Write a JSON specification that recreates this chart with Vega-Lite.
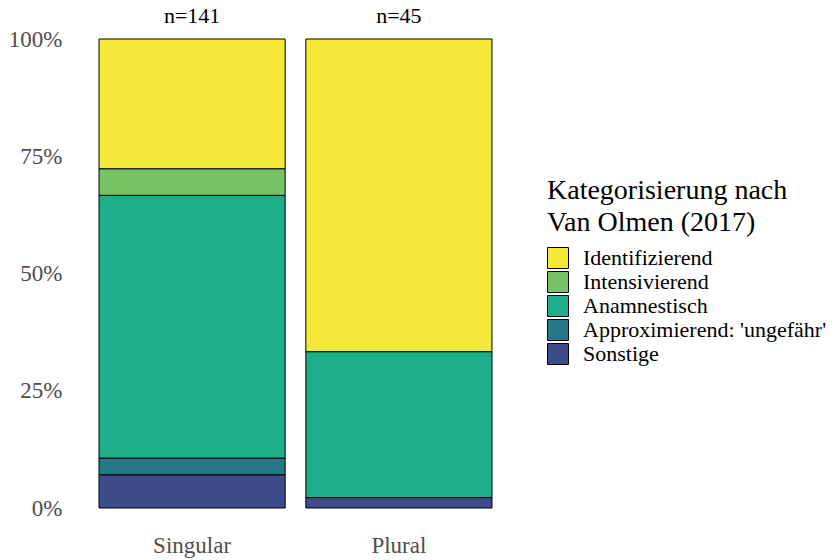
{
  "$schema": "https://vega.github.io/schema/vega-lite/v6.json",
  "width": 455,
  "height": 469,
  "autosize": {"type": "none"},
  "padding": {"left": 68, "top": 39, "right": 317, "bottom": 52},
  "background": "white",
  "config": {
    "view": {"stroke": null},
    "font": "Liberation Serif",
    "axis": {"grid": false, "domain": false, "ticks": false, "labelFont": "Liberation Serif", "labelFontSize": 23, "labelColor": "#4D4D4D", "title": null},
    "legend": {"labelFont": "Liberation Serif", "titleFont": "Liberation Serif"}
  },
  "datasets": {
    "bars": [
      {"numerus": "Singular", "kategorie": "Sonstige", "anzahl": 10, "rang": 1},
      {"numerus": "Singular", "kategorie": "Approximierend: 'ungefähr'", "anzahl": 5, "rang": 2},
      {"numerus": "Singular", "kategorie": "Anamnestisch", "anzahl": 79, "rang": 3},
      {"numerus": "Singular", "kategorie": "Intensivierend", "anzahl": 8, "rang": 4},
      {"numerus": "Singular", "kategorie": "Identifizierend", "anzahl": 39, "rang": 5},
      {"numerus": "Plural", "kategorie": "Sonstige", "anzahl": 1, "rang": 1},
      {"numerus": "Plural", "kategorie": "Anamnestisch", "anzahl": 14, "rang": 3},
      {"numerus": "Plural", "kategorie": "Identifizierend", "anzahl": 30, "rang": 5}
    ],
    "labels": [
      {"numerus": "Singular", "label": "n=141"},
      {"numerus": "Plural", "label": "n=45"}
    ]
  },
  "encoding": {
    "x": {
      "field": "numerus", "type": "nominal", "sort": ["Singular", "Plural"],
      "scale": {"paddingInner": 0.1, "paddingOuter": 0.15},
      "axis": {"labelAngle": 0, "labelPadding": 26}
    }
  },
  "layer": [
    {
      "data": {"name": "bars"},
      "mark": {"type": "bar", "stroke": "black", "strokeWidth": 1},
      "encoding": {
        "y": {
          "field": "anzahl", "type": "quantitative", "stack": "normalize",
          "scale": {"domain": [0, 1], "nice": false, "zero": true},
          "axis": {"values": [0, 0.25, 0.5, 0.75, 1], "format": ".0%", "labelPadding": 6}
        },
        "color": {
          "field": "kategorie", "type": "nominal",
          "scale": {
            "domain": ["Identifizierend", "Intensivierend", "Anamnestisch", "Approximierend: 'ungefähr'", "Sonstige"],
            "range": ["#F5E837", "#76C365", "#1EAE8A", "#257987", "#3E4C8A"]
          },
          "legend": {
            "title": ["Kategorisierung nach", "Van Olmen (2017)"],
            "orient": "none",
            "legendX": 479,
            "legendY": 138,
            "titleFont": "Liberation Serif",
            "titleFontSize": 28,
            "titleFontWeight": "normal",
            "titleColor": "black",
            "titleLineHeight": 32,
            "titlePadding": 10,
            "titleLimit": 0,
            "labelFont": "Liberation Serif",
            "labelFontSize": 22,
            "labelColor": "black",
            "labelOffset": 14,
            "labelLimit": 0,
            "symbolType": "square",
            "symbolSize": 441,
            "symbolStrokeColor": "black",
            "symbolStrokeWidth": 1,
            "symbolOpacity": 1,
            "rowPadding": -4
          }
        },
        "order": {"field": "rang", "type": "quantitative", "sort": "ascending"}
      }
    },
    {
      "data": {"name": "labels"},
      "mark": {"type": "text", "fontSize": 22, "font": "Liberation Serif", "color": "black", "baseline": "alphabetic", "dy": -16},
      "encoding": {
        "y": {"datum": 1, "type": "quantitative"},
        "text": {"field": "label"}
      }
    }
  ]
}
